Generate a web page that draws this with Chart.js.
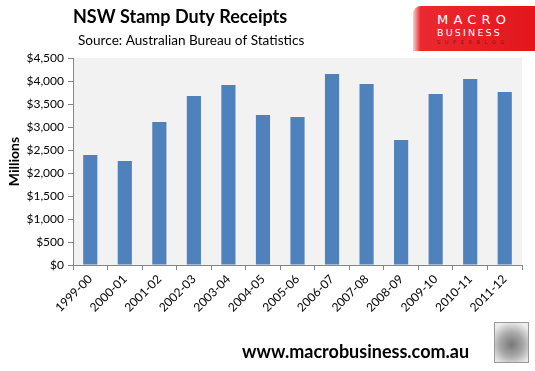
<!DOCTYPE html>
<html>
<head>
<meta charset="utf-8">
<script src="https://cdn.jsdelivr.net/npm/chart.js@4/dist/chart.umd.min.js"></script>
<style>
  html, body { margin: 0; padding: 0; background: #fff; }
  #wrap { position: relative; width: 535px; height: 371px; }
  #logo {
    position: absolute; left: 413px; top: 6px; width: 122px; height: 45px;
    background: linear-gradient(90deg, #f7d0d0 0%, #ea2a2f 6%, #e3161c 100%);
    border-top-left-radius: 8px;
    font-family: "DejaVu Sans", sans-serif; color: #fff; white-space: nowrap;
  }
  #logo span { position: absolute; left: 24px; line-height: 1; }
  #logo .a { top: 7px; font-size: 13px; letter-spacing: 5.2px; font-weight: normal; }
  #logo .b { top: 22px; font-size: 9.5px; letter-spacing: 2.2px; }
  #logo .c { top: 34px; font-size: 5px; letter-spacing: 4.6px; color: #8a1414; }
  #wolf {
    position: absolute; left: 494px; top: 322px; width: 33px; height: 39px;
    border: 1px solid #999; background: radial-gradient(circle at 50% 55%, #777 0%, #aaa 45%, #eee 85%);
  }
</style>
</head>
<body>
<div id="wrap">
  <canvas id="Graphic" width="535" height="371"></canvas>
  <div id="logo"><span class="a">MACRO</span><span class="b">BUSINESS</span><span class="c">SUPERBLOG</span></div>
  <div id="wolf"></div>
</div>
<script>
const years = ["1999-00", "2000-01", "2001-02", "2002-03", "2003-04", "2004-05", "2005-06",
               "2006-07", "2007-08", "2008-09", "2009-10", "2010-11", "2011-12"];
const receipts = [2390, 2260, 3110, 3675, 3915, 3260, 3215, 4150, 3935, 2720, 3715, 4045, 3760];
const yTicks = [0, 500, 1000, 1500, 2000, 2500, 3000, 3500, 4000, 4500];

const textFont = "Lato, 'Liberation Sans', sans-serif";

// light grey plot area plus the title, source and footer text
const decor = {
    id: "decor",
    beforeDraw(chart) {
        const ctx = chart.ctx;
        const a = chart.chartArea;
        ctx.save();
        ctx.fillStyle = "#f2f2f2";
        ctx.fillRect(a.left, a.top, a.right - a.left, a.bottom - a.top);
        ctx.restore();
    },
    afterDraw(chart) {
        const ctx = chart.ctx;
        ctx.save();
        ctx.fillStyle = "#000";
        ctx.textBaseline = "middle";
        ctx.textAlign = "left";
        ctx.font = "bold 18px " + textFont;
        ctx.fillText("NSW Stamp Duty Receipts", 73, 17);
        ctx.font = "13.6px " + textFont;
        ctx.fillText("Source: Australian Bureau of Statistics", 78, 41);
        ctx.font = "bold 18px " + textFont;
        ctx.fillText("www.macrobusiness.com.au", 242, 352);
        ctx.restore();
    }
};

new Chart(document.getElementById("Graphic").getContext("2d"), {
    type: "bar",
    data: {
        labels: years,
        datasets: [{
            data: receipts,
            backgroundColor: "#4f81bd",
            barPercentage: 0.41,
            categoryPercentage: 1
        }]
    },
    options: {
        responsive: false,
        animation: false,
        layout: { padding: { top: 58, right: 13, left: 6, bottom: 0 } },
        plugins: { legend: { display: false }, tooltip: { enabled: false } },
        scales: {
            y: {
                min: 0,
                max: 4500,
                afterFit(s) { s.width = 67; },
                afterBuildTicks(s) { s.ticks = yTicks.map(v => ({ value: v })); },
                border: { color: "#868686" },
                grid: { drawOnChartArea: false, tickLength: 5, color: "#868686" },
                ticks: {
                    padding: 4,
                    color: "#000",
                    font: { family: textFont, size: 12 },
                    callback: v => "$" + v.toLocaleString("en-US")
                },
                title: {
                    display: true,
                    text: "Millions",
                    color: "#000",
                    font: { family: textFont, size: 14, weight: "bold" },
                    padding: 0
                }
            },
            x: {
                afterFit(s) { s.height = 106; },
                border: { color: "#868686" },
                grid: { drawOnChartArea: false, tickLength: 5, color: "#868686" },
                ticks: {
                    color: "#000",
                    font: { family: textFont, size: 12 },
                    minRotation: 45,
                    maxRotation: 45,
                    autoSkip: false,
                    padding: 2
                }
            }
        }
    },
    plugins: [decor]
});
</script>
</body>
</html>
